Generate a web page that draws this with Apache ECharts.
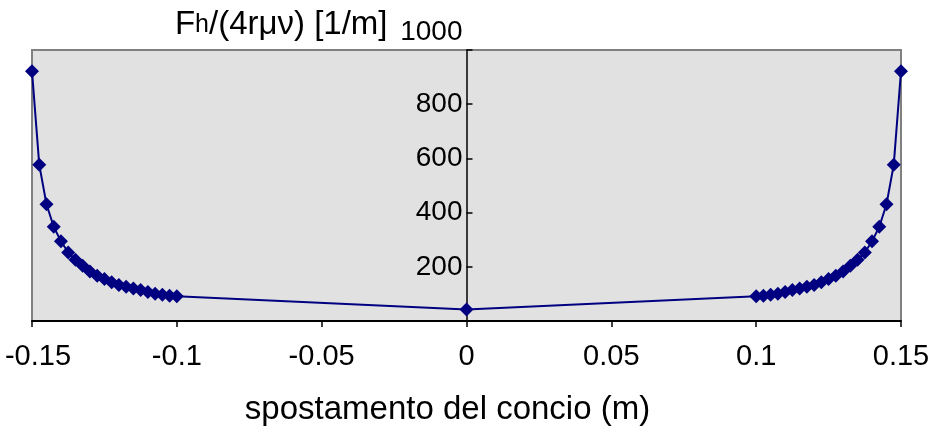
<!DOCTYPE html>
<html>
<head>
<meta charset="utf-8">
<script src="https://cdn.jsdelivr.net/npm/echarts@6/dist/echarts.min.js"></script>
<style>
  html, body { margin: 0; padding: 0; background: #fff; }
  #chart { width: 943px; height: 434px; }
</style>
</head>
<body>
<div id="chart"></div>
<script>
// spostamento del concio (m)
const spostamento = [
  -0.15, -0.1475, -0.145, -0.1425, -0.14, -0.1375, -0.135, -0.1325, -0.13, -0.1275, -0.125,
  -0.1225, -0.12, -0.1175, -0.115, -0.1125, -0.11, -0.1075, -0.105, -0.1025, -0.1,
  0,
  0.1, 0.1025, 0.105, 0.1075, 0.11, 0.1125, 0.115, 0.1175, 0.12, 0.1225,
  0.125, 0.1275, 0.13, 0.1325, 0.135, 0.1375, 0.14, 0.1425, 0.145, 0.1475, 0.15
];
// Fh/(4rμν) [1/m]
const forza = [
  922, 577, 431, 348, 294, 253, 226, 204, 183, 167, 155,
  143, 133, 126, 120, 114, 107, 101, 97, 93, 91,
  42,
  91, 93, 97, 101, 107, 114, 120, 126, 133, 143,
  155, 167, 183, 204, 226, 253, 294, 348, 431, 577, 922
];
const xTicks = { min: -0.15, max: 0.15, step: 0.05 };
const yTicks = { min: 0, max: 1000, step: 200 };

const FONT = "'Liberation Sans', Arial, sans-serif";
const GRID_LEFT = 32, GRID_RIGHT = 42;
const PLOT_W = 943 - GRID_LEFT - GRID_RIGHT;

const chart = echarts.init(document.getElementById('chart'));
chart.setOption({
  animation: false,
  grid: {
    left: GRID_LEFT, right: GRID_RIGHT, top: 50, bottom: 113,
    outerBoundsMode: 'none',
    containLabel: false,
    show: true,
    backgroundColor: '#e1e1e1',
    borderColor: '#808080',
    borderWidth: 2
  },
  xAxis: {
    type: 'value',
    min: xTicks.min, max: xTicks.max, interval: xTicks.step,
    name: 'spostamento del concio (m)',
    nameLocation: 'middle',
    nameGap: 89,
    nameTextStyle: { fontFamily: FONT, fontSize: 33, color: '#000', verticalAlign: 'middle', padding: [0, 38, 0, 0] },
    axisLine: { onZero: false, lineStyle: { color: '#000', width: 2 } },
    axisTick: { length: 6, lineStyle: { color: '#000', width: 1.5 } },
    axisLabel: {
      fontFamily: FONT, fontSize: 29, color: '#000', margin: 21,
      // la prima etichetta è leggermente spostata a destra, come nell'originale
      formatter: v => v === xTicks.min ? '{m|' + String(+v.toFixed(2)) + '}' : String(+v.toFixed(2)),
      rich: { m: { fontFamily: FONT, fontSize: 29, color: '#000', padding: [0, 0, 0, 12] } }
    },
    splitLine: { show: false }
  },
  yAxis: {
    type: 'value',
    min: yTicks.min, max: yTicks.max, interval: yTicks.step,
    // asse verticale spostato in x = 0 (centro del grafico)
    offset: -PLOT_W / 2,
    name: '{a|F}{b|h}{a|/(4rμν) [1/m]}',
    nameLocation: 'end',
    nameGap: 25,
    nameTextStyle: {
      align: 'right', verticalAlign: 'middle', padding: [0, 79, 0, 0],
      rich: {
        a: { fontFamily: FONT, fontSize: 33, color: '#000' },
        b: { fontFamily: FONT, fontSize: 25, color: '#000' }
      }
    },
    axisLine: { onZero: false, lineStyle: { color: '#000', width: 1.5 } },
    axisTick: { inside: true, length: 6, lineStyle: { color: '#000', width: 1.5 } },
    axisLabel: {
      fontFamily: FONT, fontSize: 28, color: '#000', margin: 4,
      formatter: v => v === 0 ? '' : (v === 1000 ? '{t|1000}' : String(v)),
      rich: { t: { fontFamily: FONT, fontSize: 28, color: '#000', padding: [0, 0, 36, 0] } }
    },
    splitLine: { show: false }
  },
  series: [{
    type: 'line',
    data: spostamento.map((x, i) => [x, forza[i]]),
    symbol: 'diamond',
    symbolSize: 14,
    itemStyle: { color: '#000080' },
    lineStyle: { color: '#000080', width: 2 }
  }]
});
</script>
</body>
</html>
